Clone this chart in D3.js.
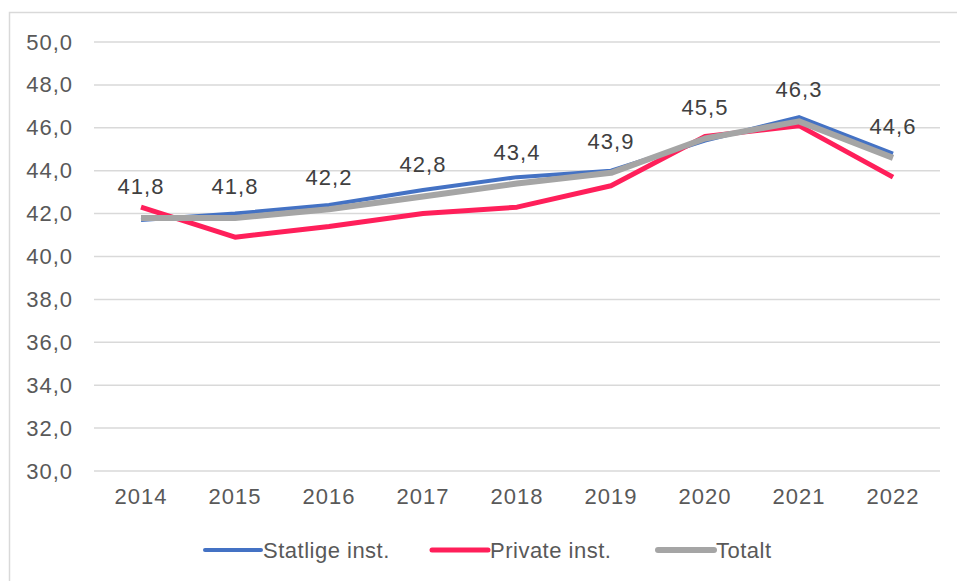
<!DOCTYPE html>
<html>
<head>
<meta charset="utf-8">
<script src="https://cdn.jsdelivr.net/npm/d3@7"></script>
<style>
  body { margin: 0; background: #fff; }
  text { font-family: "Liberation Sans", Arial, sans-serif; }
</style>
</head>
<body>
<div id="chart"></div>
<script>
const years = ["2014", "2015", "2016", "2017", "2018", "2019", "2020", "2021", "2022"];
const statlige = [41.7, 42.0, 42.4, 43.1, 43.7, 44.0, 45.4, 46.5, 44.8];
const privat = [42.3, 40.9, 41.4, 42.0, 42.3, 43.3, 45.6, 46.1, 43.7];
const totalt = [41.8, 41.8, 42.2, 42.8, 43.4, 43.9, 45.5, 46.3, 44.6];
const yTicks = [30, 32, 34, 36, 38, 40, 42, 44, 46, 48, 50];

const series = [
    {label: "Statlige inst.", values: statlige, color: "#4472c4", width: 4},
    {label: "Private inst.", values: privat, color: "#ff1f5a", width: 5},
    {label: "Totalt", values: totalt, color: "#a5a5a5", width: 6}
];

const W = 957, H = 581;
const margin = {top: 42, left: 94, right: 17, bottom: 110};
const width = W - margin.left - margin.right;
const height = H - margin.top - margin.bottom;

const fontSize = "22px";
const spacing = "1px";

const svg = d3.select("#chart").append("svg")
    .attr("width", W)
    .attr("height", H);

// outer chart border (cropped at right and bottom)
svg.append("rect")
    .attr("x", 9.5).attr("y", 12.5)
    .attr("width", W).attr("height", H)
    .attr("fill", "none")
    .attr("stroke", "#d9d9d9")
    .attr("stroke-width", 1.5);

const g = svg.append("g")
    .attr("transform", `translate(${margin.left},${margin.top})`);

const x = d3.scaleBand()
    .domain(years)
    .range([0, width]);

const y = d3.scaleLinear()
    .domain([30, 50])
    .range([height, 0]);

// gridlines
g.append("g")
    .selectAll("line")
    .data(yTicks)
    .join("line")
    .attr("x1", 0).attr("x2", width)
    .attr("y1", d => y(d)).attr("y2", d => y(d))
    .attr("stroke", "#d9d9d9")
    .attr("stroke-width", 1.5);

// y-axis labels
const yAxis = d3.axisLeft(y)
    .tickValues(yTicks)
    .tickSize(0)
    .tickPadding(21)
    .tickFormat(d => d3.format(".1f")(d).replace(".", ","));

g.append("g")
    .call(yAxis)
    .call(a => a.select(".domain").remove())
    .selectAll("text")
    .attr("fill", "#595959")
    .style("font-size", fontSize)
    .style("letter-spacing", spacing);

// x-axis labels
const xAxis = d3.axisBottom(x).tickSize(0).tickPadding(17);

g.append("g")
    .attr("transform", `translate(0,${height})`)
    .call(xAxis)
    .call(a => a.select(".domain").remove())
    .selectAll("text")
    .attr("fill", "#595959")
    .style("font-size", fontSize)
    .style("letter-spacing", spacing);

const line = d3.line()
    .x((d, i) => x(years[i]) + x.bandwidth() / 2)
    .y(d => y(d));

series.forEach(s => {
    g.append("path")
        .attr("d", line(s.values))
        .attr("fill", "none")
        .attr("stroke", s.color)
        .attr("stroke-width", s.width)
        .attr("stroke-linejoin", "round");
});

// data labels for Totalt
g.append("g")
    .selectAll("text")
    .data(totalt)
    .join("text")
    .attr("x", (d, i) => x(years[i]) + x.bandwidth() / 2)
    .attr("y", d => y(d) - 24)
    .attr("text-anchor", "middle")
    .attr("fill", "#404040")
    .style("font-size", fontSize)
    .style("letter-spacing", spacing)
    .text(d => d3.format(".1f")(d).replace(".", ","));

// legend
const legendX = [205, 432, 658];
const legend = svg.append("g")
    .attr("transform", "translate(0,550)");

series.forEach((s, i) => {
    const item = legend.append("g")
        .attr("transform", `translate(${legendX[i]},0)`);
    item.append("line")
        .attr("x1", 0).attr("x2", 56)
        .attr("stroke", s.color)
        .attr("stroke-width", s.width)
        .attr("stroke-linecap", "round");
    item.append("text")
        .attr("x", 58)
        .attr("dy", "0.35em")
        .attr("fill", "#595959")
        .style("font-size", fontSize)
        .style("letter-spacing", "0.5px")
        .text(s.label);
});
</script>
</body>
</html>
